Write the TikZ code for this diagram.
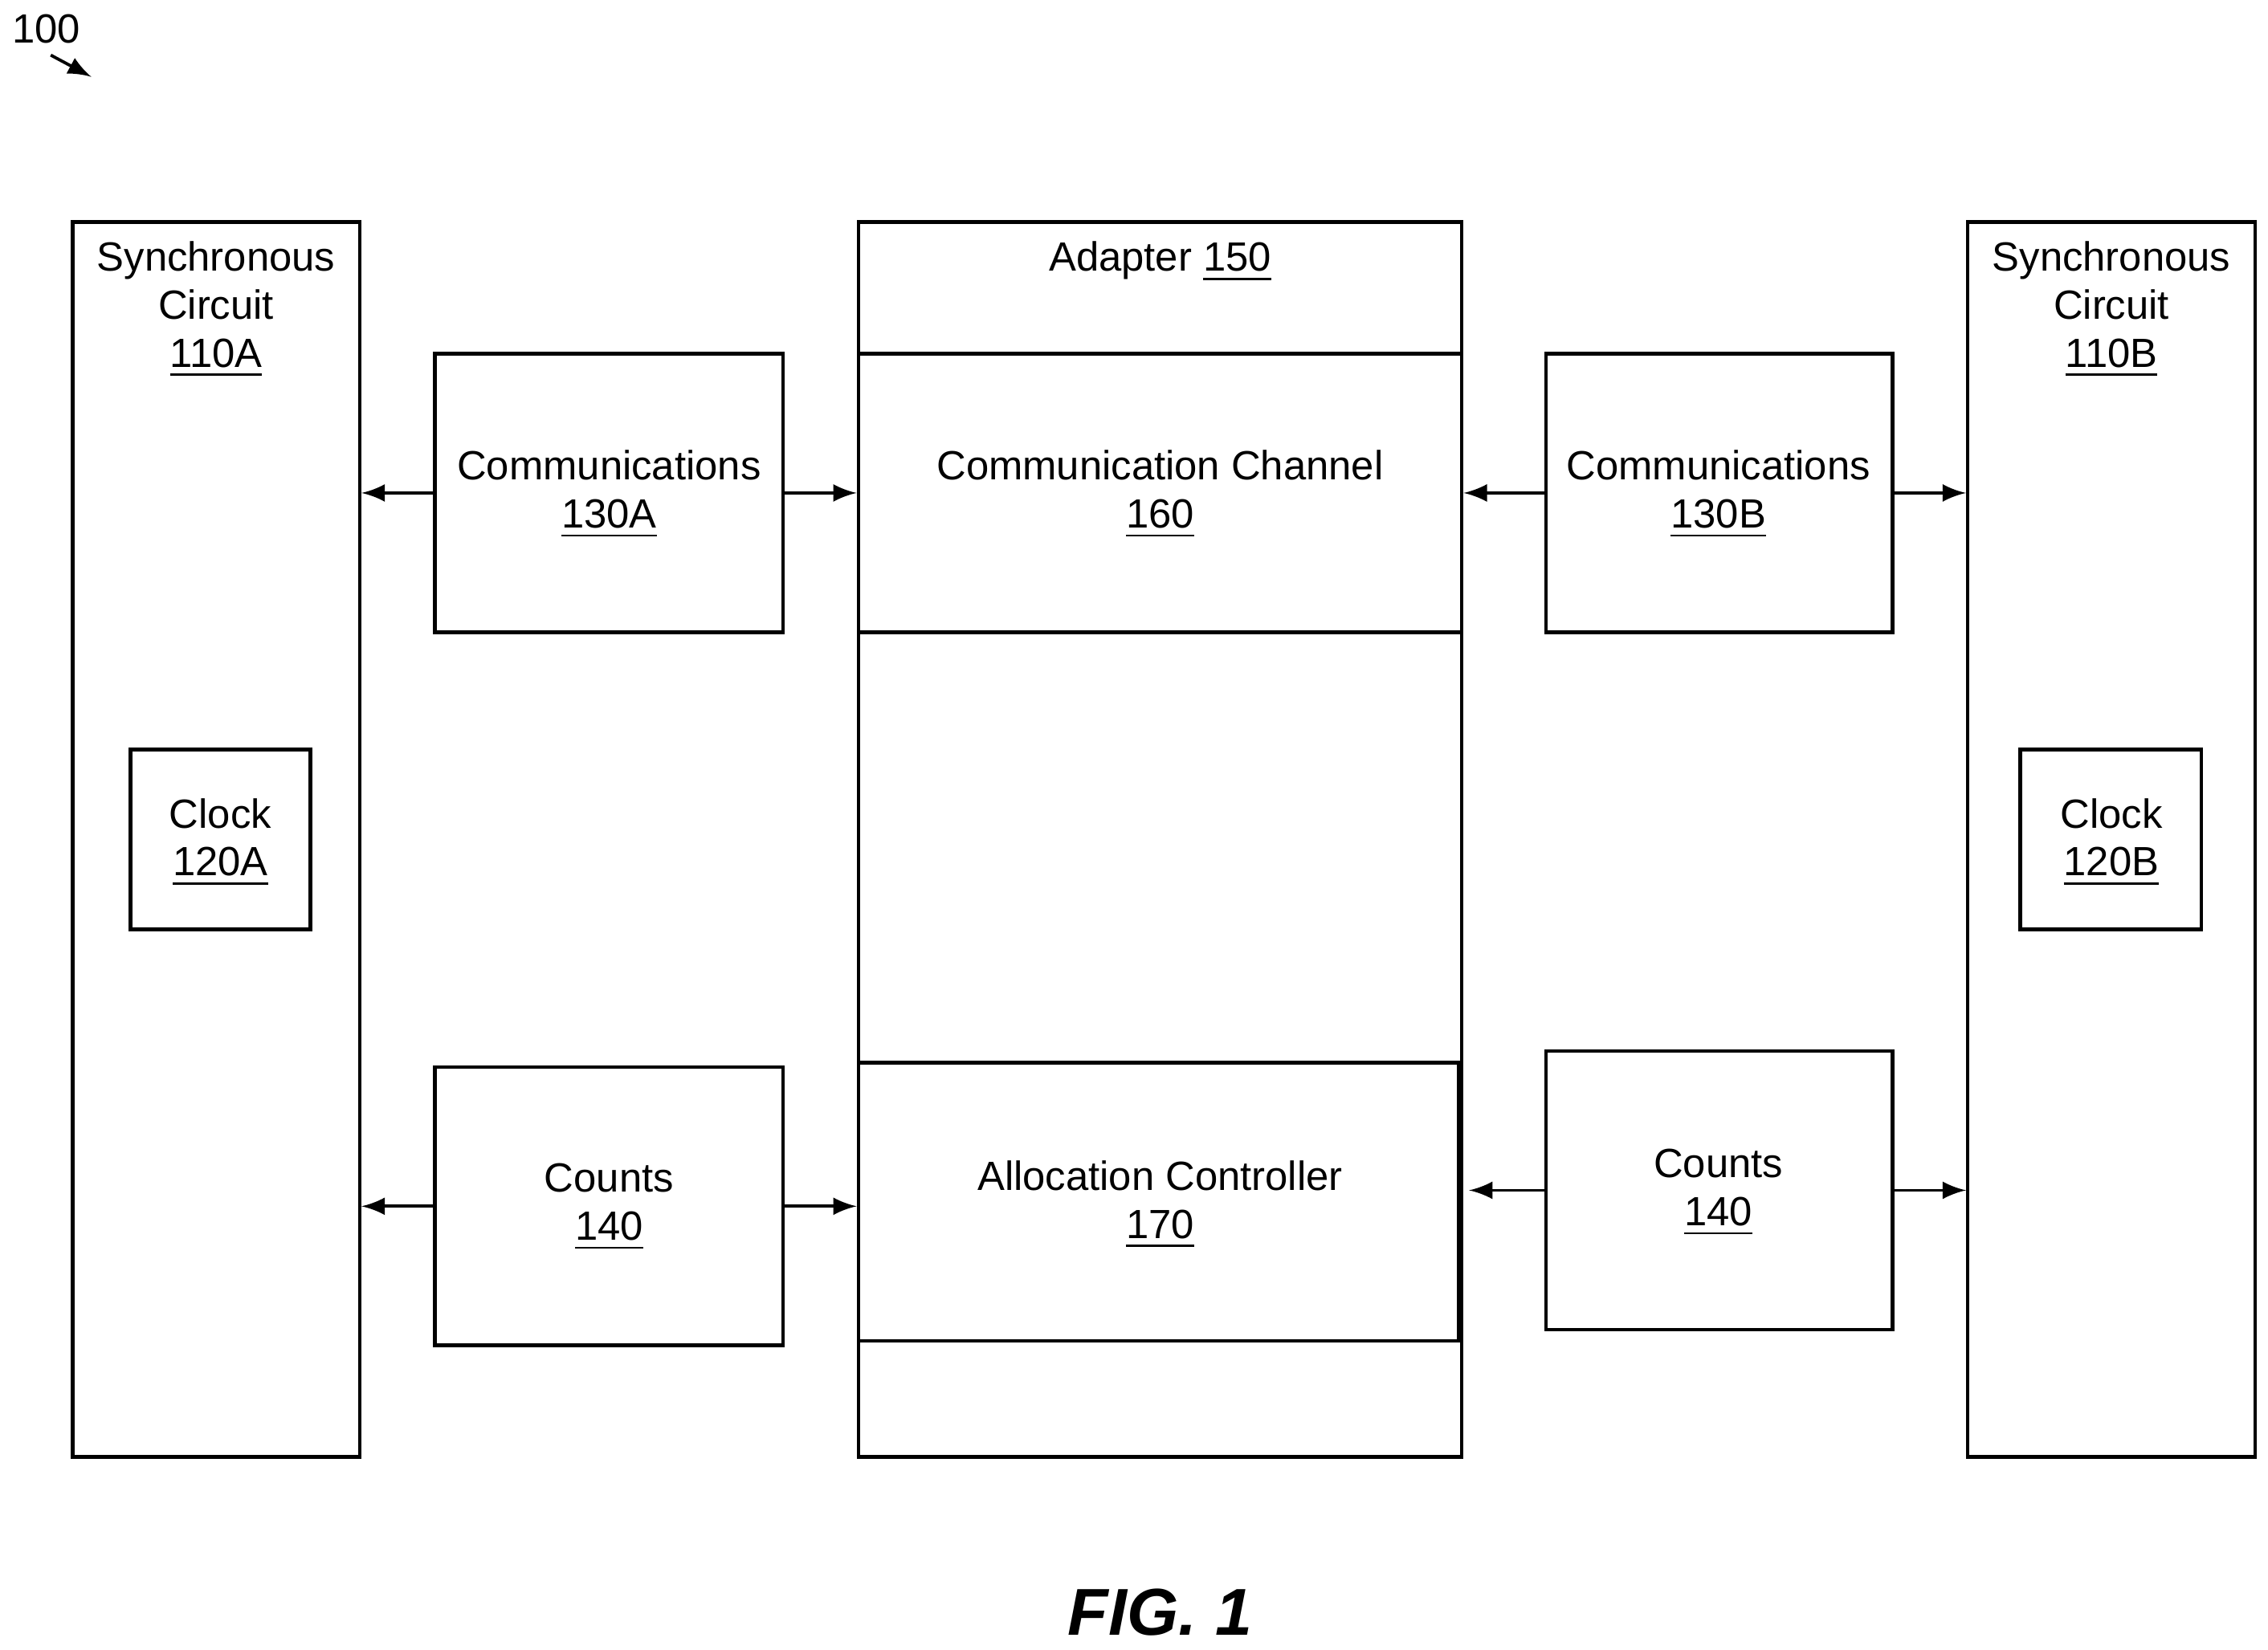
\documentclass[tikz,border=0pt]{standalone}
\usepackage{fontspec}
\setmainfont{Liberation Sans}
\usetikzlibrary{fit}
\begin{document}
\begin{tikzpicture}[x=0.01cm,y=-0.01cm,
  box/.style={draw,line width=0.7pt,inner sep=0pt},
  txt/.style={align=center,font=\fontsize{8}{9.4}\selectfont,inner sep=0pt,anchor=north},
  arr/.style={->,>=latex,line width=0.6pt}]
\useasboundingbox (0,0) rectangle (1564,1138);
% boxes
\node[box,fit={(50,153)(248,1005)}] (circA) {};
\node[box,fit={(90,517)(214,641)}] (clkA) {};
\node[box,fit={(300,244)(540,436)}] (commA) {};
\node[box,fit={(300,736)(540,928)}] (cntA) {};
\node[box,fit={(592,153)(1008,1005)}] (adapt) {};
\node[box,fit={(592,244)(1008,436)}] (chan) {};
\node[box,fit={(592,733)(1006,925)}] (alloc) {};
\node[box,fit={(1066,244)(1305,436)}] (commB) {};
\node[box,fit={(1066,725)(1305,917)}] (cntB) {};
\node[box,fit={(1357,153)(1555,1005)}] (circB) {};
\node[box,fit={(1393,517)(1518,641)}] (clkB) {};
% texts
\node[txt] (tA) at (149,166) {Synchronous\\Circuit\\\underline{110A}};
\node[txt] (tB) at (1456,166) {Synchronous\\Circuit\\\underline{110B}};
\node[txt] (tclkA) at (152,550) {Clock\\\underline{120A}};
\node[txt] (tclkB) at (1456,550) {Clock\\\underline{120B}};
\node[txt] (tcommA) at (420,310) {Communications\\\underline{130A}};
\node[txt] (tcommB) at (1185,310) {Communications\\\underline{130B}};
\node[txt] (tcntA) at (420,802) {Counts\\\underline{140}};
\node[txt] (tcntB) at (1185,792) {Counts\\\underline{140}};
\node[txt] (tad) at (800,166) {Adapter \underline{150}};
\node[txt] (tch) at (800,310) {Communication Channel\\\underline{160}};
\node[txt] (tal) at (800,800) {Allocation Controller\\\underline{170}};
% arrows
\draw[arr] (commA.west) -- (circA.east |- commA.west);
\draw[arr] (commA.east) -- (chan.west |- commA.east);
\draw[arr] (cntA.west) -- (circA.east |- cntA.west);
\draw[arr] (cntA.east) -- (alloc.west |- cntA.east);
\draw[arr] (commB.west) -- (chan.east |- commB.west);
\draw[arr] (commB.east) -- (circB.west |- commB.east);
\coordinate (cbl) at (1013,821);
\draw[arr] (cntB.west) -- (cbl);
\draw[arr] (cntB.east) -- (circB.west |- cntB.east);
% label 100
\node[font=\fontsize{8}{9}\selectfont,inner sep=0pt] (n100) at (32,20) {100};
\coordinate (p100) at (63,53);
\coordinate (q100) at (35,38);
\draw[arr] (q100) -- (p100);
\node[font=\fontsize{13}{15}\bfseries\itshape\selectfont,inner sep=0pt] (fig) at (800,1112) {FIG. 1};
\end{tikzpicture}
\end{document}
